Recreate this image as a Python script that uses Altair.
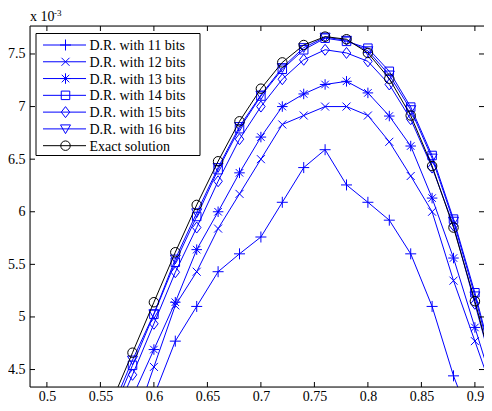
import altair as alt
import pandas as pd

# ---------------- data (values in units of 1e-3) ----------------
x_vals = [0.56, 0.58, 0.60, 0.62, 0.64, 0.66, 0.68, 0.70, 0.72, 0.74,
          0.76, 0.78, 0.80, 0.82, 0.84, 0.86, 0.88, 0.90, 0.92]

y_11 = [3.30, 3.80, 4.25, 4.77, 5.10, 5.43, 5.60, 5.76, 6.09, 6.42,
        6.59, 6.255, 6.09, 5.92, 5.60, 5.10, 4.44, 3.91, 3.40]
y_12 = [3.40, 3.94, 4.525, 5.11, 5.43, 5.84, 6.17, 6.50, 6.83, 6.915,
        7.00, 7.00, 6.915, 6.665, 6.34, 6.00, 5.345, 4.77, 4.19]
y_13 = [3.75, 4.24, 4.69, 5.14, 5.64, 6.00, 6.37, 6.71, 7.00, 7.12,
        7.21, 7.24, 7.13, 6.91, 6.625, 6.13, 5.56, 4.90, 4.24]
y_14 = [4.06, 4.54, 5.025, 5.52, 5.955, 6.40, 6.79, 7.10, 7.355, 7.54,
        7.65, 7.62, 7.555, 7.335, 6.995, 6.535, 5.93, 5.23, 4.45]
y_15 = [3.98, 4.45, 4.935, 5.425, 5.85, 6.29, 6.69, 7.00, 7.26, 7.445,
        7.54, 7.51, 7.43, 7.21, 6.88, 6.42, 5.87, 5.125, 4.38]
y_16 = [4.11, 4.59, 5.03, 5.55, 5.99, 6.42, 6.81, 7.11, 7.37, 7.56,
        7.66, 7.63, 7.53, 7.30, 6.97, 6.51, 5.91, 5.20, 4.42]
y_exact = [4.18, 4.66, 5.14, 5.615, 6.065, 6.48, 6.86, 7.17, 7.42, 7.585,
           7.665, 7.64, 7.51, 7.265, 6.915, 6.435, 5.85, 5.15, 4.38]

series_names = ["D.R. with 11 bits", "D.R. with 12 bits", "D.R. with 13 bits",
                "D.R. with 14 bits", "D.R. with 15 bits", "D.R. with 16 bits",
                "Exact solution"]
series_values = [y_11, y_12, y_13, y_14, y_15, y_16, y_exact]
series_colors = ["#0000ff"] * 6 + ["#000000"]

x_ticks = [0.5, 0.55, 0.6, 0.65, 0.7, 0.75, 0.8, 0.85, 0.9]
y_ticks = [4.5, 5.0, 5.5, 6.0, 6.5, 7.0, 7.5]

# ---------------- styling ----------------
W, H = 454, 361
X_DOM = [0.4842, 0.4842 + 454 / 1070.0]
Y_DOM = [4.334, 7.766]
FONT = "Liberation Serif"
TICK = 5
PX0, PY0 = 30, 26  # plot origin on the page (for placing legend decor)

plus = "M-1.1,0L1.1,0M0,-1.1L0,1.1"
cross = "M-0.8,-0.8L0.8,0.8M-0.8,0.8L0.8,-0.8"
star = "M-1.05,0L1.05,0M0,-1.05L0,1.05M-0.75,-0.75L0.75,0.75M-0.75,0.75L0.75,-0.75"
square = "M-0.85,-0.85L0.85,-0.85L0.85,0.85L-0.85,0.85Z"
diamond = "M0,-1.1L0.85,0L0,1.1L-0.85,0Z"
tri_down = "M-1,-0.8L1,-0.8L0,0.95Z"
circle = "M-0.95,0A0.95,0.95 0 1,0 0.95,0A0.95,0.95 0 1,0 -0.95,0Z"
shapes = [plus, cross, star, square, diamond, tri_down, circle]
MSIZE = 100

rows = []
for name, vals in zip(series_names, series_values):
    for xv, yv in zip(x_vals, vals):
        rows.append({"x": xv, "y": yv, "series": name})
df = pd.DataFrame(rows)

xscale = alt.Scale(domain=X_DOM, nice=False, zero=False)
yscale = alt.Scale(domain=Y_DOM, nice=False, zero=False)
xaxis = alt.Axis(values=x_ticks, format=".2~f", title=None, domain=False, ticks=False,
                 grid=False, labelFont=FONT, labelFontSize=14, labelColor="black",
                 labelPadding=2, labelFlush=False)
yaxis = alt.Axis(values=y_ticks, format=".2~f", title=None, domain=False, ticks=False,
                 grid=False, labelFont=FONT, labelFontSize=14, labelColor="black",
                 labelPadding=5)

color_enc = alt.Color("series:N", scale=alt.Scale(domain=series_names, range=series_colors),
                      legend=None)
shape_enc = alt.Shape("series:N", scale=alt.Scale(domain=series_names, range=shapes),
                      legend=None)

base = alt.Chart(df).encode(
    x=alt.X("x:Q", scale=xscale, axis=xaxis),
    y=alt.Y("y:Q", scale=yscale, axis=yaxis),
    color=color_enc,
)
lines = base.mark_line(clip=True, strokeWidth=1).encode(
    detail="series:N", order=alt.Order("x:Q"))
points = base.mark_point(clip=True, filled=False, strokeWidth=1, size=MSIZE,
                         opacity=1).encode(shape=shape_enc)

layers = []
for name in series_names:
    layers.append(lines.transform_filter(alt.datum.series == name))
    layers.append(points.transform_filter(alt.datum.series == name))

xt = pd.DataFrame({"x": x_ticks})
yt = pd.DataFrame({"y": y_ticks})
tick_x_b = alt.Chart(xt).mark_rule(color="black", strokeWidth=1).encode(
    x=alt.X("x:Q", scale=xscale, axis=xaxis), y=alt.value(H), y2=alt.value(H - TICK))
tick_x_t = alt.Chart(xt).mark_rule(color="black", strokeWidth=1).encode(
    x=alt.X("x:Q", scale=xscale, axis=xaxis), y=alt.value(0), y2=alt.value(TICK))
tick_y_l = alt.Chart(yt).mark_rule(color="black", strokeWidth=1).encode(
    y=alt.Y("y:Q", scale=yscale, axis=yaxis), x=alt.value(0), x2=alt.value(TICK))
tick_y_r = alt.Chart(yt).mark_rule(color="black", strokeWidth=1).encode(
    y=alt.Y("y:Q", scale=yscale, axis=yaxis), x=alt.value(W), x2=alt.value(W - TICK))

one = pd.DataFrame({"a": [0]})

border_l = alt.Chart(one).mark_rule(color="black", strokeWidth=1).encode(
    x=alt.value(0), y=alt.value(0), y2=alt.value(H))
border_t = alt.Chart(one).mark_rule(color="black", strokeWidth=1).encode(
    x=alt.value(0), x2=alt.value(W), y=alt.value(0))
border_b = alt.Chart(one).mark_rule(color="black", strokeWidth=1).encode(
    x=alt.value(0), x2=alt.value(W), y=alt.value(H))

exp_base = alt.Chart(one).mark_text(text="x 10", font=FONT, fontSize=14, align="left",
                                    baseline="alphabetic", color="black").encode(
    x=alt.value(30 - PX0), y=alt.value(20.5 - PY0))
exp_sup = alt.Chart(one).mark_text(text="-3", font=FONT, fontSize=9, align="left",
                                   baseline="alphabetic", color="black").encode(
    x=alt.value(54 - PX0), y=alt.value(15.5 - PY0))

LEG_L, LEG_R, LEG_T, LEG_B = 36 - PX0, 200 - PX0, 33.5 - PY0, 155.5 - PY0
LEG_ROW0, LEG_STEP = 45 - PY0, 16.78
leg_box = alt.Chart(one).mark_rect(fill="white", stroke="black", strokeWidth=1).encode(
    x=alt.value(LEG_L), x2=alt.value(LEG_R), y=alt.value(LEG_T), y2=alt.value(LEG_B))
leg_layers = [leg_box]
for i, (name, col, shp) in enumerate(zip(series_names, series_colors, shapes)):
    yy = LEG_ROW0 + i * LEG_STEP
    leg_layers.append(alt.Chart(one).mark_rule(color=col, strokeWidth=1).encode(
        x=alt.value(43 - PX0), x2=alt.value(86 - PX0), y=alt.value(yy)))
    leg_layers.append(alt.Chart(one).mark_point(shape=shp, filled=False, color=col,
                                                strokeWidth=1, size=MSIZE, opacity=1).encode(
        x=alt.value(65.5 - PX0), y=alt.value(yy)))
    leg_layers.append(alt.Chart(one).mark_text(text=name, font=FONT, fontSize=14,
                                               align="left", baseline="middle",
                                               color="black", dy=1).encode(
        x=alt.value(89.5 - PX0), y=alt.value(yy)))

chart = alt.layer(
    *layers, tick_x_b, tick_x_t, tick_y_l, tick_y_r, border_l, border_t, border_b,
    exp_base, exp_sup, *leg_layers
).properties(
    width=W, height=H,
    autosize=alt.AutoSizeParams(type="none"),
    padding={"left": PX0 - 8, "top": PY0 - 8, "right": 0, "bottom": 16},
).configure_view(
    strokeWidth=0
).configure(background="white")

chart.save("out.html", embed_options={"renderer": "svg", "actions": False})
